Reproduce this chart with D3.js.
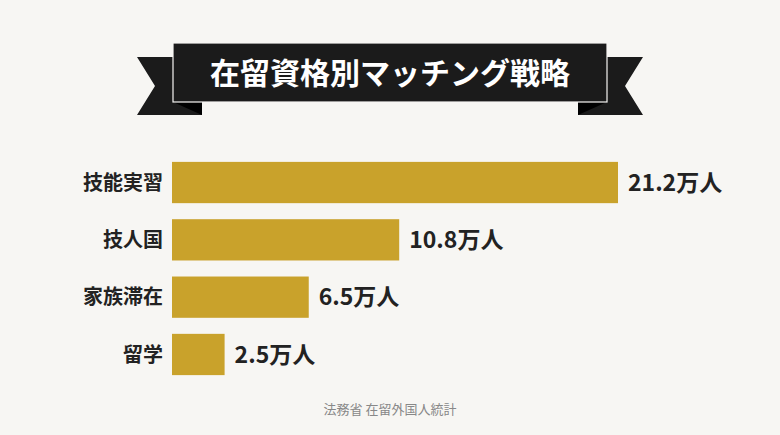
<!DOCTYPE html>
<html><head><meta charset="utf-8">
<script src="https://cdn.jsdelivr.net/npm/d3@7"></script>
<style>body{margin:0;background:#f7f6f3;}</style>
</head><body>
<svg id="c" width="780" height="435"></svg>
<script>
// data
var categories = ["技能実習", "技人国", "家族滞在", "留学"];
var values = [21.2, 10.8, 6.5, 2.5];
var valueLabels = ["21.2万人", "10.8万人", "6.5万人", "2.5万人"];
var title = "在留資格別マッチング戦略";
var source = "法務省 在留外国人統計";

var svg = d3.select("#c");
var font = "'Noto Sans CJK JP', sans-serif";
svg.append("rect").attr("width", 780).attr("height", 435).attr("fill", "#f7f6f3");

// ribbon banner
var g = svg.append("g");
// tails
g.append("path").attr("d", "M137,57 L202,57 L202,115 L137,115 L155,86 Z").attr("fill", "#1b1b1b");
g.append("path").attr("d", "M643,57 L578,57 L578,115 L643,115 L625,86 Z").attr("fill", "#1b1b1b");
// folds
g.append("path").attr("d", "M173,102 L202,115 L202,102 Z").attr("fill", "#000");
g.append("path").attr("d", "M607,102 L578,115 L578,102 Z").attr("fill", "#000");
g.append("rect").attr("x", 173).attr("y", 43).attr("width", 434).attr("height", 59)
  .attr("fill", "#1b1b1b").attr("stroke", "#f7f6f3").attr("stroke-width", 1.2);
g.append("text").attr("x", 390).attr("y", 84).attr("text-anchor", "middle")
  .attr("fill", "#fff").attr("font-family", font).attr("font-weight", 700)
  .attr("font-size", 30).text(title);

var x = d3.scaleLinear().domain([0, 21.2]).range([172, 618]);
var y = d3.scaleBand().domain(categories).range([155, 382]).paddingInner(0.28).paddingOuter(0.12);

svg.selectAll(".bar").data(categories).enter().append("rect")
  .attr("x", x(0)).attr("y", d => y(d))
  .attr("width", (d, i) => x(values[i]) - x(0)).attr("height", y.bandwidth())
  .attr("fill", "#c9a22b");

svg.selectAll(".cat").data(categories).enter().append("text")
  .attr("x", 163).attr("y", d => y(d) + y.bandwidth() / 2).attr("dy", "0.36em")
  .attr("text-anchor", "end").attr("font-family", font).attr("font-weight", 700)
  .attr("font-size", 20).attr("fill", "#222").text(d => d);

svg.selectAll(".val").data(categories).enter().append("text")
  .attr("x", (d, i) => x(values[i]) + 10).attr("y", d => y(d) + y.bandwidth() / 2).attr("dy", "0.36em")
  .attr("font-family", font).attr("font-weight", 700)
  .attr("font-size", 23).attr("fill", "#222").text((d, i) => valueLabels[i]);

svg.append("text").attr("x", 390).attr("y", 414).attr("text-anchor", "middle")
  .attr("font-family", font).attr("font-size", 13).attr("fill", "#888").text(source);
</script>
</body></html>
